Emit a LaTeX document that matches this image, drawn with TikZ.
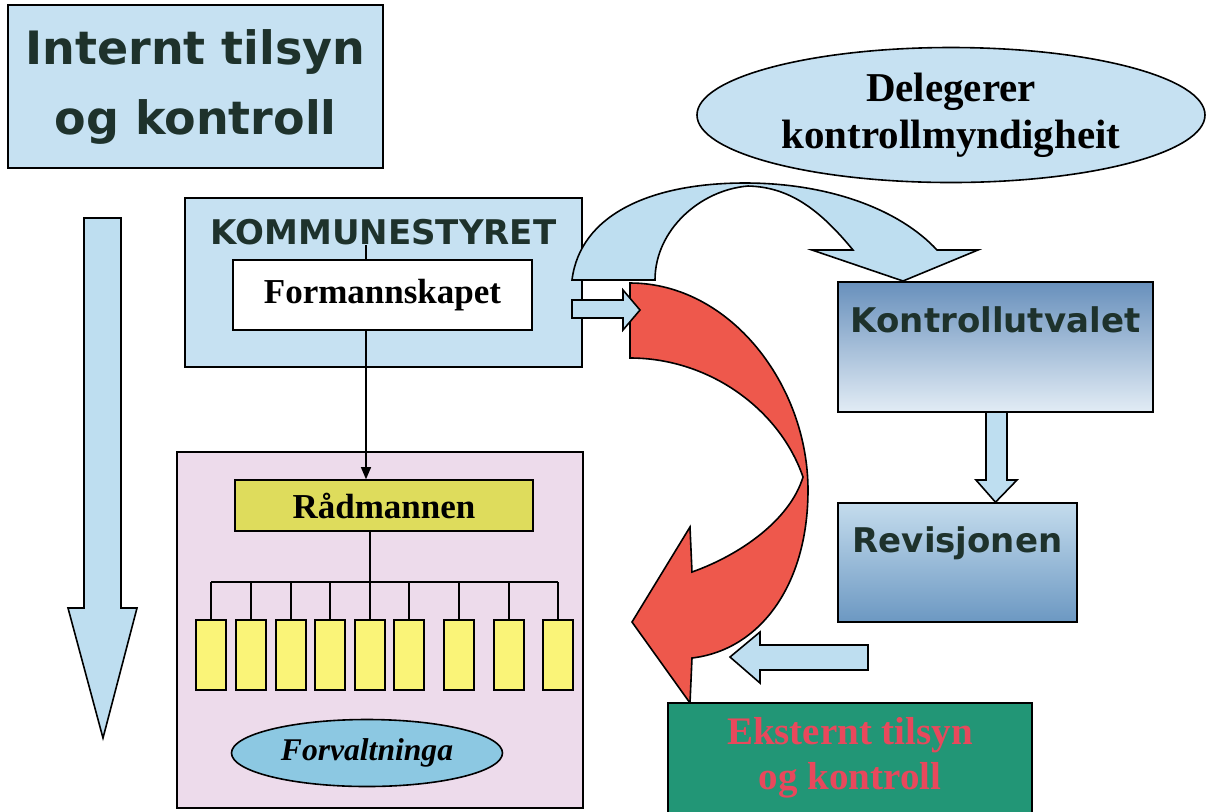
\documentclass[tikz,border=0pt]{standalone}
\usepackage{fontspec}
\setmainfont{Liberation Serif}
\newfontfamily\heavyfont{DejaVu Sans}
\usetikzlibrary{positioning, arrows.meta, shapes.geometric, calc}

\definecolor{paleblue}{RGB}{198,225,242}
\definecolor{arrowblue}{RGB}{190,222,240}
\definecolor{lilac}{RGB}{237,219,235}
\definecolor{olive}{RGB}{222,220,92}
\definecolor{unityellow}{RGB}{250,244,120}
\definecolor{ovalblue}{RGB}{140,200,226}
\definecolor{flame}{RGB}{238,88,76}
\definecolor{extgreen}{RGB}{34,150,118}
\definecolor{darkslate}{RGB}{30,50,44}
\definecolor{rosetext}{RGB}{232,72,92}
\definecolor{steeltop}{RGB}{104,144,188}
\definecolor{steelpale}{RGB}{226,236,245}
\definecolor{revtop}{RGB}{196,220,237}
\definecolor{revbottom}{RGB}{108,152,194}

\tikzstyle{panel} = [
    rectangle, draw, thick, inner sep=0pt
]
\tikzstyle{heavy} = [
    font=\heavyfont\bfseries\fontsize{17}{20}\selectfont, text=darkslate
]
\tikzstyle{seriflabel} = [
    font=\bfseries\fontsize{17.5}{21}\selectfont
]
\tikzstyle{unit} = [
    rectangle, draw, semithick, fill=unityellow,
    minimum width=15pt, minimum height=35pt, inner sep=0pt
]
\tikzstyle{blockarrow} = [
    draw, thick, fill=arrowblue, line join=miter
]

\begin{document}
\begin{tikzpicture}[x=0.5pt, y=-0.5pt]
        \useasboundingbox (0,0) rectangle (1212,811);

        % Internal side
        \node[panel, fill=paleblue, minimum width=187.5pt, minimum height=81.5pt,
              heavy, font=\heavyfont\bfseries\fontsize{23}{35}\selectfont, align=center]
              (internt) at (195.5,86.5) {Internt tilsyn\\og kontroll};
        \draw[blockarrow] (84,218) -- (121,218) -- (121,608) -- (137,608)
              -- (103,738) -- (68,608) -- (84,608) -- cycle;

        % Administration
        \node[panel, fill=lilac, minimum width=203pt, minimum height=178pt] (forvaltbox) at (380,630) {};
        \node[panel, fill=olive, minimum width=149pt, minimum height=25.5pt, seriflabel] (raad) at (384,505.5) {Rådmannen};
        \foreach \i/\x in {1/211, 2/251, 3/291, 4/330, 5/370, 6/409, 7/459, 8/509, 9/558}
            \node[unit] (u\i) at (\x,655) {};
        \coordinate (busL) at (u1.north |- 0,582);
        \coordinate (busR) at (u9.north |- 0,582);
        \draw[semithick] (busL) -- (busR);
        \foreach \i in {1,...,9}
            \draw[semithick] (u\i.north |- busL) -- (u\i.north);
        \draw[semithick] (u5.north |- raad.south) -- (u5.north |- busL);
        \node[ellipse, draw, thick, fill=ovalblue, minimum width=135.5pt, minimum height=33.5pt, inner sep=0pt,
              font=\bfseries\itshape\fontsize{15.8}{19}\selectfont] (forvaltninga) at (367,753) {Forvaltninga};

        % Council
        \node[panel, fill=paleblue, minimum width=198.5pt, minimum height=84.5pt] (kommune) at (383.5,282.5) {};
        \node[heavy] (kommunetitle) [below=7.5pt of kommune.north] {KOMMUNESTYRET};
        \coordinate (tap) at (366,245);
        \draw[semithick, -{Triangle[length=6pt, width=5pt]}] (tap) -- (tap |- raad.north);
        \node[panel, fill=white, minimum width=149.5pt, minimum height=35pt, seriflabel] (formann) at (382.5,295) {Formannskapet};

        % Red loop
        \draw[thick, fill=flame, line join=miter]
              (630,283) .. controls (730,283) and (808,385) .. (808,490)
              .. controls (808,585) and (760,650) .. (692,658)
              -- (690,703) -- (632,622) -- (690,527) -- (692,572)
              .. controls (740,555) and (790,520) .. (803,477)
              .. controls (780,410) and (710,358) .. (630,358) -- cycle;

        % Delegation
        \draw[blockarrow]
              (572,280) .. controls (580,215) and (650,183) .. (745,183)
              .. controls (830,183) and (900,210) .. (937,250)
              -- (978,250) -- (903,281) -- (812,250) -- (853,250)
              .. controls (820,210) and (790,187) .. (748,186)
              .. controls (700,190) and (655,230) .. (655,280) -- cycle;
        \node[ellipse, draw, thick, fill=paleblue, minimum width=254pt, minimum height=67.5pt, inner sep=0pt,
              align=center, font=\bfseries\fontsize{20.5}{23.5}\selectfont]
              (delegering) at (951,115) {Delegerer\\kontrollmyndigheit};
        \draw[blockarrow] (572,300) -- (623,300) -- (623,290) -- (640,310)
              -- (623,330) -- (623,318) -- (572,318) -- cycle;

        % Control chain
        \node[panel, top color=steeltop, bottom color=steelpale, minimum width=157.5pt, minimum height=65pt] (kontroll) at (995.5,347) {};
        \node[heavy] (kontrolltitle) [below=9pt of kontroll.north] {Kontrollutvalet};
        \node[panel, top color=revtop, bottom color=revbottom, minimum width=119.5pt, minimum height=59.5pt] (revisjon) at (957.5,562.5) {};
        \node[heavy] (revisjontitle) [below=8.5pt of revisjon.north] {Revisjonen};
        \draw[blockarrow] (986,412) -- (986,480) -- (976,480) -- (kontroll.south |- revisjon.north)
              -- (1017,480) -- (1007,480) -- (1007,412) -- cycle;

        % External side
        \node[panel, fill=extgreen, minimum width=182pt, minimum height=55pt, align=center,
              text=rosetext, font=\bfseries\fontsize{19.5}{22.5}\selectfont]
              (ekstern) at (850,758) {Eksternt tilsyn\\og kontroll};
        \draw[blockarrow] (868,645) -- (760,645) -- (760,632) -- (730,657)
              -- (760,683) -- (760,670) -- (868,670) -- cycle;

    \end{tikzpicture}
\end{document}
